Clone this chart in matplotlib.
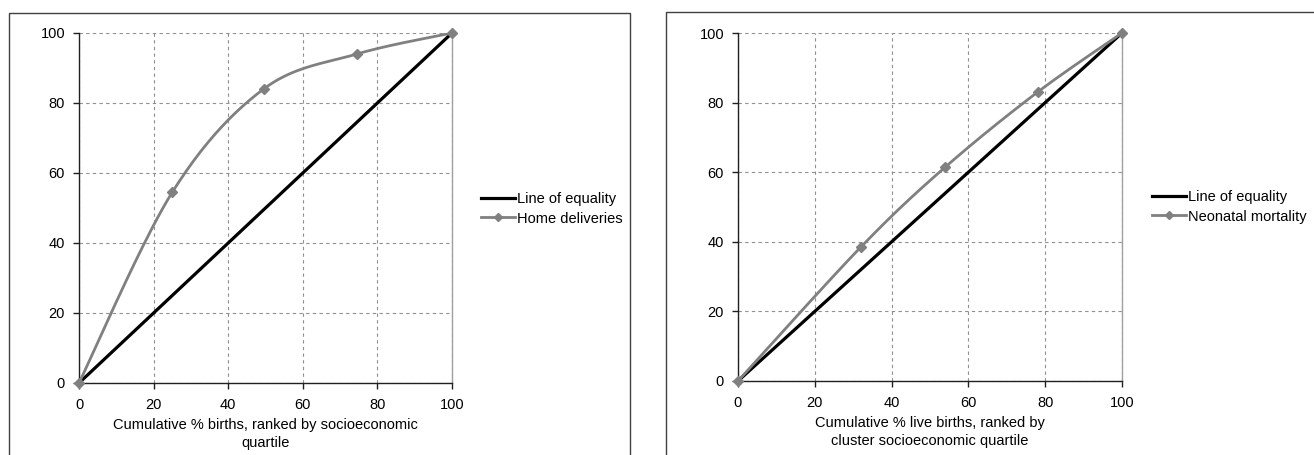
import matplotlib
matplotlib.use("Agg")
import matplotlib.pyplot as plt
from matplotlib.patches import Rectangle
import numpy as np

plt.rcParams['font.family'] = ['Liberation Sans', 'DejaVu Sans']

# data
equality = [0, 100]
home_x = [0, 25, 49.5, 74.5, 100]
home_y = [0, 54.5, 84, 94, 100]
neo_x = [0, 32, 54, 78, 100]
neo_y = [0, 38.5, 61.5, 83, 100]
ticks = [0, 20, 40, 60, 80, 100]
xlabel_left = "Cumulative % births, ranked by socioeconomic\nquartile"
xlabel_right = "Cumulative % live births, ranked by\ncluster socioeconomic quartile"

GRAY = "#808080"
W, H = 1314, 455
FS = 10.5


def smooth(xs, ys, n=40):
    # excel style smoothed line (catmull-rom through the points)
    p = np.column_stack([xs, ys]).astype(float)
    p = np.vstack([p[0], p, p[-1]])
    out = []
    t = np.linspace(0, 1, n)[:, None]
    for i in range(1, len(p) - 2):
        p0, p1, p2, p3 = p[i - 1], p[i], p[i + 1], p[i + 2]
        c1 = p1 + (p2 - p0) / 6
        c2 = p2 - (p3 - p1) / 6
        seg = ((1 - t) ** 3) * p1 + 3 * ((1 - t) ** 2) * t * c1 + 3 * (1 - t) * t ** 2 * c2 + t ** 3 * p2
        out.append(seg)
    out = np.vstack(out)
    return out[:, 0], out[:, 1]


def panel(fig, box, xs, ys, name, xlabel, leg_pos):
    l, t, r, b = box
    ax = fig.add_axes([l / W, 1 - b / H, (r - l) / W, (b - t) / H])
    ax.set_xlim(0, 100)
    ax.set_ylim(0, 100)
    ax.set_xticks(ticks)
    ax.set_yticks(ticks)
    ax.grid(True, color="#909090", linestyle=(0, (3, 3)), linewidth=0.8)
    ax.set_axisbelow(True)
    ax.plot(equality, equality, color="black", lw=2.3, label="Line of equality", zorder=3)
    sx, sy = smooth(xs, ys)
    ax.plot(sx, sy, color=GRAY, lw=2, zorder=4, solid_capstyle="round")
    ax.plot(xs, ys, linestyle="none", marker="D", ms=5, color=GRAY, zorder=5, clip_on=False)
    ax.plot([], [], color=GRAY, lw=2, marker="D", ms=4, label=name)
    for s in ["left", "bottom"]:
        ax.spines[s].set_color("#202020")
        ax.spines[s].set_linewidth(1)
    ax.spines["top"].set_visible(False)
    ax.spines["right"].set_color("#a0a0a0")
    ax.spines["right"].set_linewidth(1)
    ax.tick_params(direction="out", length=4, width=1, color="#202020", labelsize=FS)
    ax.tick_params(axis="x", pad=7)
    ax.tick_params(axis="y", pad=6)
    ax.set_xlabel(xlabel, fontsize=FS, labelpad=4, linespacing=1.4)
    ax.legend(loc="center left", bbox_to_anchor=(leg_pos[0] / W, 1 - leg_pos[1] / H),
              bbox_transform=fig.transFigure, frameon=False, fontsize=FS,
              handlelength=2.3, handletextpad=0.15, labelspacing=0.35, borderpad=0, borderaxespad=0)
    return ax


fig = plt.figure(figsize=(W / 100, H / 100), dpi=100)

# chart area frames
fig.patches.append(Rectangle((9 / W, -0.05), (630 - 9) / W, 1.05 - 13 / H,
                             transform=fig.transFigure, fill=False, edgecolor="#404040", lw=1))
fig.patches.append(Rectangle((666 / W, -0.05), 0.5, 1.05 - 12 / H,
                             transform=fig.transFigure, fill=False, edgecolor="#404040", lw=1))

panel(fig, (79, 33, 452, 383), home_x, home_y, "Home deliveries", xlabel_left, (481, 209))
panel(fig, (738, 33, 1122, 381), neo_x, neo_y, "Neonatal mortality", xlabel_right, (1152, 207))

fig.savefig("out.png", dpi=100)
